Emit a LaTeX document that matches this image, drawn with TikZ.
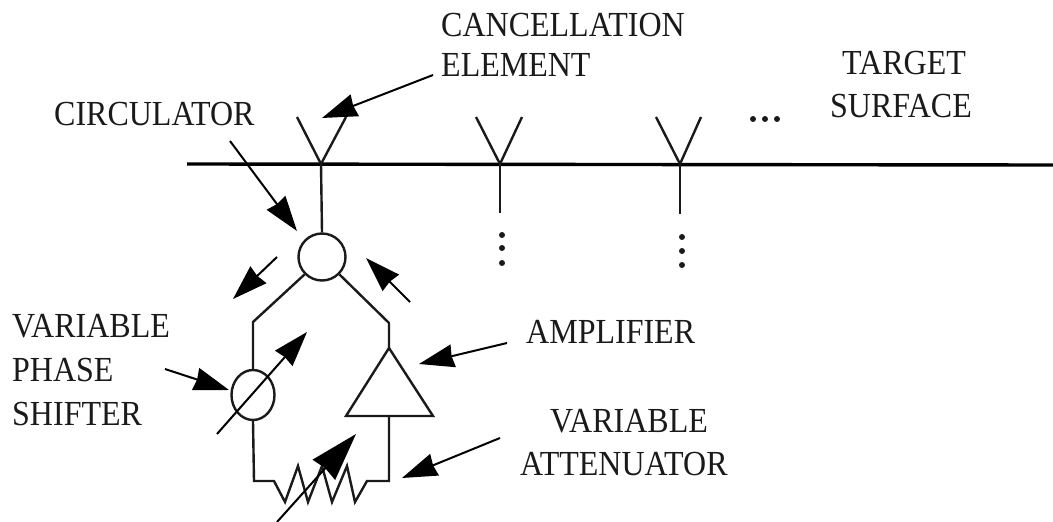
\documentclass[tikz,border=0pt]{standalone}
\usepackage{fontspec}
\setmainfont{Liberation Serif}
\usetikzlibrary{arrows.meta, shapes.geometric, positioning}
\definecolor{inkgray}{HTML}{1A1A1A}
\newcommand{\tallcaps}[1]{\scalebox{1}[1.1]{#1}}
\tikzset{
  wire/.style={line width=2.4pt, inkgray, line join=miter},
  leader/.style={line width=2pt, black, -{Stealth[length=35pt,width=23pt,inset=1.5pt]}},
  lbl/.style={inner sep=0pt, anchor=west, text=inkgray, font=\fontsize{32}{32}\selectfont},
  dotmark/.style={circle, fill=inkgray, inner sep=0pt, minimum size=6pt}
}
\begin{document}
\begin{tikzpicture}[x=1pt, y=-1pt]
  \useasboundingbox (0,0) rectangle (1053,522);

  % Surface
  \coordinate (surfL) at (187,164);
  \coordinate (surfR) at (1053,165);
  \draw[line width=3.4pt, black] (surfL) -- (surfR);

  % Elements
  \foreach \name/\xa/\xb/\xc in {one/297/321/346, two/476/500/522, three/656/680/701} {
    \coordinate (\name armL) at (\xa,117);
    \coordinate (\name foot) at (\xb,164);
    \coordinate (\name armR) at (\xc,117);
    \draw[wire] (\name armL) -- (\name foot) -- (\name armR);
  }
  \coordinate (twoend) at (500,213);
  \coordinate (threeend) at (680,214);
  \draw[wire] (twofoot) -- (twoend);
  \draw[wire] (threefoot) -- (threeend);

  % Vertical dots
  \foreach \i/\y in {a/235, b/248, c/263} {
    \node[dotmark] (twodot\i) at (502,\y) {};
  }
  \foreach \i/\y in {a/237, b/251, c/265} {
    \node[dotmark] (threedot\i) at (682,\y) {};
  }
  \foreach \i/\x in {a/753, b/765, c/777} {
    \node[dotmark] (more\i) at (\x,119) {};
  }

  % Circulator
  \node[draw, wire, circle, minimum size=47pt, inner sep=0pt] (circ) at (322,257) {};
  \draw[wire] (onefoot) -- (circ.north);

  % Phase shifter branch
  \node[draw, wire, ellipse, minimum width=43pt, minimum height=50pt, inner sep=0pt] (phase) at (253,395) {};
  \coordinate (bendL) at (253,322);
  \draw[wire] (circ.225) -- (bendL) -- (phase.north);

  % Amplifier
  \coordinate (ampT) at (389,348);
  \coordinate (ampL) at (346,416);
  \coordinate (ampR) at (433,416);
  \coordinate (ampB) at (389,416);
  \coordinate (bendR) at (389,323);
  \draw[wire] (ampT) -- (ampL) -- (ampR) -- cycle;
  \draw[wire] (circ.315) -- (bendR) -- (ampT);

  % Attenuator
  \coordinate (cornerL) at (254,481);
  \coordinate (cornerR) at (389,481);
  \coordinate (zigA) at (274,481);
  \coordinate (zigB) at (285,502);
  \coordinate (zigC) at (298,466);
  \coordinate (zigD) at (308,502);
  \coordinate (zigE) at (322,466);
  \coordinate (zigF) at (332,502);
  \coordinate (zigG) at (347,466);
  \coordinate (zigH) at (355,502);
  \coordinate (zigI) at (367,481);
  \draw[wire] (phase.south) -- (cornerL) -- (zigA) -- (zigB) -- (zigC) -- (zigD) -- (zigE) -- (zigF) -- (zigG) -- (zigH) -- (zigI) -- (cornerR) -- (ampB);

  % Labels
  \node[lbl] (cancelA) at (441,25) {\tallcaps{CANCELLATION}};
  \node[lbl] (cancelB) at (441,65) {\tallcaps{ELEMENT}};
  \node[lbl] (targetA) at (842,63) {\tallcaps{TARGET}};
  \node[lbl] (targetB) at (830,106) {\tallcaps{SURFACE}};
  \node[lbl] (circlabel) at (54,114) {\tallcaps{CIRCULATOR}};
  \node[lbl] (varA) at (12,326) {\tallcaps{VARIABLE}};
  \node[lbl] (varB) at (12,370) {\tallcaps{PHASE}};
  \node[lbl] (varC) at (12,414) {\tallcaps{SHIFTER}};
  \node[lbl] (amplabel) at (526,332) {\tallcaps{AMPLIFIER}};
  \node[lbl] (attA) at (550,421) {\tallcaps{VARIABLE}};
  \node[lbl] (attB) at (520,464) {\tallcaps{ATTENUATOR}};

  % Leaders
  \coordinate (cancelfrom) at (433,75);
  \coordinate (canceltip) at (322,118);
  \draw[leader] (cancelfrom) -- (canceltip);
  \coordinate (circfrom) at (230,141);
  \coordinate (circtip) at (297,231);
  \draw[leader] (circfrom) -- (circtip);
  \coordinate (flowLfrom) at (277,257);
  \coordinate (flowLtip) at (233,299);
  \draw[leader] (flowLfrom) -- (flowLtip);
  \coordinate (flowRfrom) at (410,302);
  \coordinate (flowRtip) at (366,258);
  \draw[leader] (flowRfrom) -- (flowRtip);
  \coordinate (ampfrom) at (507,343);
  \coordinate (amptip) at (419,364);
  \draw[leader] (ampfrom) -- (amptip);
  \coordinate (attfrom) at (500,438);
  \coordinate (atttip) at (402,478);
  \draw[leader] (attfrom) -- (atttip);
  \coordinate (phasefrom) at (165,369);
  \coordinate (phasetip) at (229,390);
  \draw[leader] (phasefrom) -- (phasetip);

  % Tuning arrows
  \coordinate (tuneAfrom) at (217,434);
  \coordinate (tuneAtip) at (307,332);
  \draw[leader] (tuneAfrom) -- (tuneAtip);
  \coordinate (tuneBfrom) at (277,522);
  \coordinate (tuneBtip) at (356,434);
  \draw[line width=2pt, -{Stealth[length=48pt,width=30pt,inset=2pt]}] (tuneBfrom) -- (tuneBtip);
\end{tikzpicture}
\end{document}
